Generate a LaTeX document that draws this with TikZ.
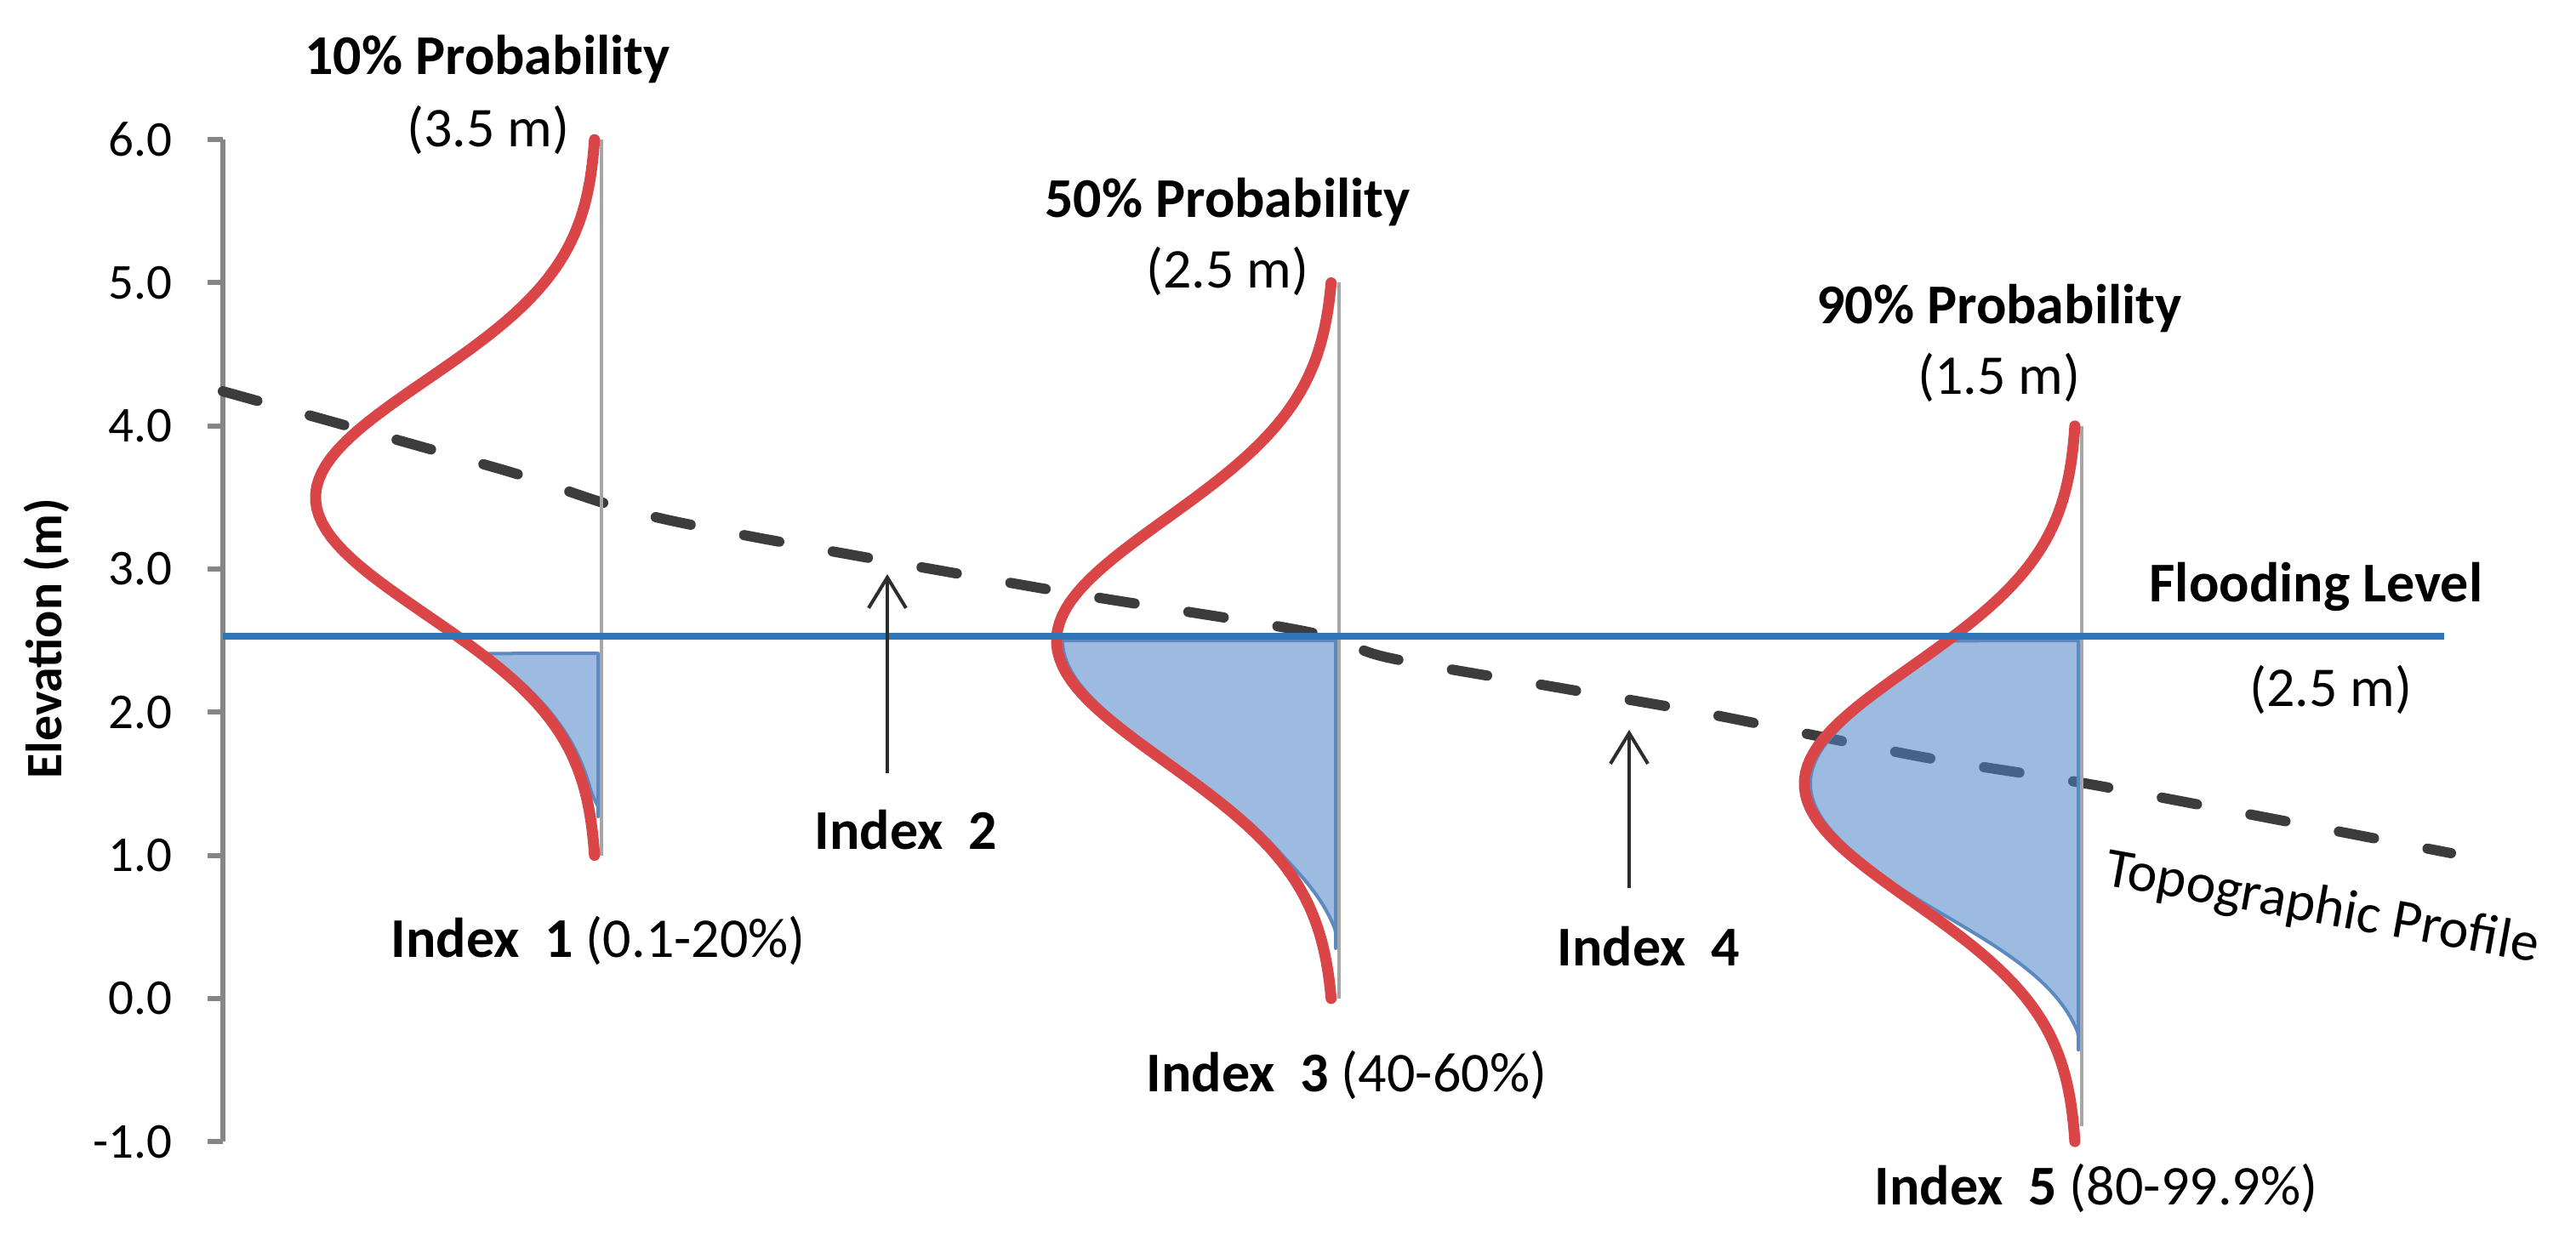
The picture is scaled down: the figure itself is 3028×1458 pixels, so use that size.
\documentclass[tikz,border=0pt]{standalone}
\usepackage{fontspec}
\setmainfont{Carlito}
\usetikzlibrary{arrows.meta}
\definecolor{redc}{RGB}{218,70,72}
\definecolor{grayl}{RGB}{166,166,166}
\definecolor{axisc}{RGB}{134,134,134}
\definecolor{floodc}{RGB}{46,117,182}
\definecolor{profc}{RGB}{60,60,60}
\definecolor{arrc}{RGB}{45,45,45}
\definecolor{fillc}{RGB}{77,131,199}
\definecolor{edgec}{RGB}{92,138,192}
\tikzset{
  redcurve/.style={draw=redc, line width=3.25pt, line cap=round},
  vline/.style={draw=grayl, line width=1pt},
  axisline/.style={draw=axisc, line width=1.5pt},
  floodline/.style={draw=floodc, line width=2pt},
  profile/.style={draw=profc, line width=3pt, line cap=round, dash pattern=on 10.5pt off 16pt},
  idxarrow/.style={draw=arrc, line width=1pt, -{Straight Barb[length=9pt,width=11pt,line width=1pt]}},
  areafill/.style={fill=fillc, draw=edgec, line width=1pt, fill opacity=0.55, line join=round},
  annot/.style={font=\fontsize{16.5pt}{20pt}\selectfont, inner sep=0pt, text=black},
  ticklab/.style={font=\fontsize{14.75pt}{18pt}\selectfont, inner sep=0pt, anchor=east, text=black},
  axtitle/.style={font=\fontsize{15pt}{18pt}\selectfont\bfseries, inner sep=0pt, rotate=90}
}
\begin{document}
\begin{tikzpicture}[x=0.25pt,y=-0.25pt]
\useasboundingbox (0,0) rectangle (3028,1458);

% axis
\draw[axisline] (262,164) -- (262,1342);
\foreach \v/\t in {6/6.0,5/5.0,4/4.0,3/3.0,2/2.0,1/1.0,0/0.0,-1/-1.0}{
  \draw[axisline] (244,{164+(6-\v)*168.3}) -- (262,{164+(6-\v)*168.3});
  \node[ticklab] (tk\v) at (203,{164+(6-\v)*168.3}) {\t};
}
\node[axtitle] (ytitle) at (55,751) {Elevation (m)};

% topographic profile
\draw[profile] plot[smooth, tension=0.5] coordinates {(262,460) (590,552) (784,611) (1215,690) (1533,742) (1631,773) (1841,810) (2012,840) (2260,890) (2468,924) (2881,1003)};

% filled areas (w = t(2-t), t = min(1,(e-ebot)/tau))
\path[areafill] plot[variable=\e, domain=1.27:2.41, samples=60]
  ({min(703, 709-331*exp(-((\e-3.5)*(\e-3.5))/1.345)*min(1,(\e-1.27)/0.2)*(2-min(1,(\e-1.27)/0.2)))}, {164+(6-\e)*168.3})
  -- (703,{164+(6-2.41)*168.3}) -- cycle;
\path[areafill] plot[variable=\e, domain=0.35:2.5, samples=80]
  ({min(1570, 1576-327*exp(-((\e-2.5)*(\e-2.5))/1.445)*min(1,(\e-0.35)/0.7)*(2-min(1,(\e-0.35)/0.7)))}, {164+(6-\e)*168.3})
  -- (1570,{164+(6-2.5)*168.3}) -- cycle;
\path[areafill] plot[variable=\e, domain=-0.36:2.5, samples=90]
  ({min(2443, 2449-321*exp(-((\e-1.5)*(\e-1.5))/1.345)*min(1,(\e+0.36)/1.2)*(2-min(1,(\e+0.36)/1.2)))}, {164+(6-\e)*168.3})
  -- (2443,{164+(6-2.5)*168.3}) -- cycle;

% vertical reference lines
\draw[vline] (707,164) -- (707,1006);
\draw[vline] (1574,332) -- (1574,1174);
\draw[vline] (2447,501) -- (2447,1324);

% probability curves
\draw[redcurve] plot[variable=\e, domain=1:6, samples=100]
  ({702-331*exp(-((\e-3.5)*(\e-3.5))/1.345)}, {164+(6-\e)*168.3});
\draw[redcurve] plot[variable=\e, domain=0:5, samples=100]
  ({1569-327*exp(-((\e-2.5)*(\e-2.5))/1.445)}, {164+(6-\e)*168.3});
\draw[redcurve] plot[variable=\e, domain=-1:4, samples=100]
  ({2442-321*exp(-((\e-1.5)*(\e-1.5))/1.345)}, {164+(6-\e)*168.3});

% flooding level
\coordinate (fstart) at (262,748);
\coordinate (fend) at (2873,748);
\draw[floodline] (fstart) -- (fend);

% index arrows
\coordinate (a2tail) at (1043,909);
\coordinate (a2tip) at (1043,675);
\coordinate (a4tail) at (1915,1044);
\coordinate (a4tip) at (1915,858);
\draw[idxarrow] (a2tail) -- (a2tip);
\draw[idxarrow] (a4tail) -- (a4tip);

% labels
\node[annot, anchor=base] (t1) at (573,87) {\textbf{10\% Probability}};
\node[annot, anchor=base] (s1) at (574,172) {(3.5 m)};
\node[annot, anchor=base] (t2) at (1443,255) {\textbf{50\% Probability}};
\node[annot, anchor=base] (s2) at (1443,338) {(2.5 m)};
\node[annot, anchor=base] (t3) at (2350,380) {\textbf{90\% Probability}};
\node[annot, anchor=base] (s3) at (2350,463) {(1.5 m)};
\node[annot, anchor=base east] (fl) at (2919,707) {\textbf{Flooding Level}};
\node[annot, anchor=base] (fv) at (2740,830) {(2.5 m)};
\node[annot, anchor=base west, rotate=-10.2] (tp) at (2472,1040) {Topographic Profile};
\node[annot, anchor=base west] (i1) at (459,1125) {\textbf{Index\ \ 1} (0.1-20\%)};
\node[annot, anchor=base] (i2) at (1065,998) {\textbf{Index\ \ 2}};
\node[annot, anchor=base west] (i3) at (1347,1283) {\textbf{Index\ \ 3} (40-60\%)};
\node[annot, anchor=base] (i4) at (1938,1135) {\textbf{Index\ \ 4}};
\node[annot, anchor=base west] (i5) at (2203,1416) {\textbf{Index\ \ 5} (80-99.9\%)};
\end{tikzpicture}
\end{document}
